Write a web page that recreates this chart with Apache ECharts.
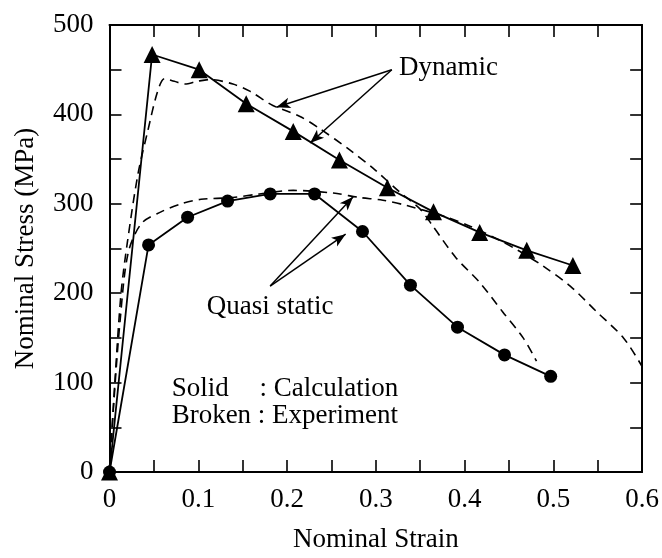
<!DOCTYPE html>
<html>
<head>
<meta charset="utf-8">
<script src="https://cdn.jsdelivr.net/npm/echarts@6/dist/echarts.min.js"></script>
<style>
  html, body { margin: 0; padding: 0; background: #fff; }
  #chart { width: 662px; height: 558px; }
</style>
</head>
<body>
<div id="chart"></div>
<script>
// Nominal stress–strain curves: calculation (solid) vs experiment (broken)

// Dynamic, calculation (triangles)
const dynCalcStrain = [0, 0.048, 0.101, 0.154, 0.207, 0.259, 0.313, 0.365, 0.417, 0.470, 0.522];
const dynCalcStress = [0, 467, 450, 412, 381, 349, 318, 291, 268, 248, 231];

// Quasi static, calculation (circles)
const qsCalcStrain = [0, 0.044, 0.088, 0.133, 0.181, 0.231, 0.285, 0.339, 0.392, 0.445, 0.497];
const qsCalcStress = [0, 254, 285, 303, 311, 311, 269, 209, 162, 131, 107];

// Dynamic, experiment
const dynExpStrain = [0, 0.006, 0.013, 0.020, 0.032, 0.043, 0.054, 0.062, 0.073, 0.085, 0.099, 0.113, 0.139, 0.158, 0.184, 0.214, 0.237, 0.271, 0.299, 0.327, 0.350, 0.365, 0.390, 0.417, 0.443, 0.466, 0.481];
const dynExpStress = [0, 100, 200, 256, 333, 381, 425, 440, 437, 434, 437, 439, 434, 426, 410, 398, 384, 360, 338, 313, 294, 274, 240, 212, 179, 150, 124];

// Quasi static, experiment
const qsExpStrain = [0, 0.005, 0.012, 0.021, 0.036, 0.058, 0.081, 0.103, 0.139, 0.169, 0.207, 0.252, 0.282, 0.308, 0.335, 0.380, 0.406, 0.432, 0.460, 0.489, 0.519, 0.549, 0.579, 0.600];
const qsExpStress = [0, 80, 170, 245, 278, 291, 300, 305, 307, 311, 315, 312, 307, 304, 298, 285, 275, 263, 248, 230, 208, 179, 150, 118];

// Tick labels
const xTickLabels = ['0', '0.1', '0.2', '0.3', '0.4', '0.5', '0.6'];
const yTickLabels = ['0', '100', '200', '300', '400', '500'];

// Annotation arrows: [from, to] in (strain, stress)
const dynArrows = [
  [[0.318, 450], [0.188, 408]],
  [[0.318, 450], [0.226, 368]]
];
const qsArrows = [
  [[0.181, 208], [0.2745, 308]],
  [[0.181, 208], [0.266, 266]]
];

const FONT = '"Liberation Serif", "Times New Roman", Times, serif';
const FS = 27;

const zip = (xs, ys) => xs.map((x, i) => [x, ys[i]]);

const chart = echarts.init(document.getElementById('chart'), null, { renderer: 'canvas' });

const tickCommon = { show: true, inside: true, length: 12, interval: 0, lineStyle: { color: '#000', width: 1.6 } };
const lineCommon = { show: true, onZero: false, lineStyle: { color: '#000', width: 2 } };

const arrowLines = dynArrows.concat(qsArrows).map(a => [{ coord: a[0] }, { coord: a[1] }]);

const option = {
  animation: false,
  backgroundColor: '#fff',
  grid: { left: 109.5, right: 19.5, top: 25, bottom: 79, containLabel: false },
  xAxis: [
    {
      type: 'value', min: 0, max: 0.6, interval: 0.05, position: 'bottom',
      axisLine: lineCommon, axisTick: tickCommon, splitLine: { show: false },
      axisLabel: {
        interval: 0, margin: 14, color: '#000', fontFamily: FONT, fontSize: FS,
        showMinLabel: true, showMaxLabel: true,
        formatter: v => { const k = Math.round(v * 20); return k % 2 === 0 ? xTickLabels[k / 2] : ''; }
      },
      name: 'Nominal Strain', nameLocation: 'middle', nameGap: 54,
      nameTextStyle: { color: '#000', fontFamily: FONT, fontSize: FS }
    },
    {
      type: 'value', min: 0, max: 0.6, interval: 0.05, position: 'top',
      axisLine: lineCommon, axisTick: tickCommon, axisLabel: { show: false }, splitLine: { show: false }
    }
  ],
  yAxis: [
    {
      type: 'value', min: 0, max: 500, interval: 50, position: 'left',
      axisLine: lineCommon, axisTick: tickCommon, splitLine: { show: false },
      axisLabel: {
        interval: 0, margin: 16, color: '#000', fontFamily: FONT, fontSize: FS,
        showMinLabel: true, showMaxLabel: true,
        formatter: v => { const k = Math.round(v / 50); return k % 2 === 0 ? yTickLabels[k / 2] : ''; }
      },
      name: 'Nominal Stress (MPa)', nameLocation: 'middle', nameGap: 70, nameRotate: 90,
      nameTextStyle: { color: '#000', fontFamily: FONT, fontSize: FS }
    },
    {
      type: 'value', min: 0, max: 500, interval: 50, position: 'right',
      axisLine: lineCommon, axisTick: tickCommon, axisLabel: { show: false }, splitLine: { show: false }
    }
  ],
  series: [
    {
      name: 'Dynamic (experiment)', type: 'line', data: zip(dynExpStrain, dynExpStress),
      showSymbol: false, symbol: 'none', smooth: 0.3,
      lineStyle: { color: '#000', width: 1.6, type: [9, 6] }, z: 2
    },
    {
      name: 'Quasi static (experiment)', type: 'line', data: zip(qsExpStrain, qsExpStress),
      showSymbol: false, symbol: 'none', smooth: 0.3,
      lineStyle: { color: '#000', width: 1.6, type: [9, 6] }, z: 2
    },
    {
      name: 'Dynamic (calculation)', type: 'line', data: zip(dynCalcStrain, dynCalcStress),
      symbol: 'triangle', symbolSize: 17, showAllSymbol: true,
      itemStyle: { color: '#000' }, lineStyle: { color: '#000', width: 1.8 }, z: 3
    },
    {
      name: 'Quasi static (calculation)', type: 'line', data: zip(qsCalcStrain, qsCalcStress),
      symbol: 'circle', symbolSize: 13, showAllSymbol: true,
      itemStyle: { color: '#000' }, lineStyle: { color: '#000', width: 1.8 }, z: 3
    },
    {
      name: 'annotations', type: 'line', data: [], silent: true,
      markLine: {
        silent: true, animation: false,
        symbol: ['none', 'arrow'], symbolSize: [8, 14],
        label: { show: false },
        lineStyle: { color: '#000', width: 1.5, type: 'solid' },
        emphasis: { disabled: true },
        data: arrowLines
      }
    }
  ]
};

chart.setOption(option);

// Text annotations, anchored (vertical middle) in data space
const px = p => chart.convertToPixel({ xAxisIndex: 0, yAxisIndex: 0 }, p);
const notes = [
  { text: 'Dynamic', at: [0.326, 452], align: 'left' },
  { text: 'Quasi static', at: [0.181, 184.5], align: 'center' },
  { text: 'Solid', at: [0.070, 93], align: 'left' },
  { text: ': Calculation', at: [0.169, 93], align: 'left' },
  { text: 'Broken : Experiment', at: [0.070, 63], align: 'left' }
];
chart.setOption({
  graphic: notes.map(n => {
    const p = px(n.at);
    return {
      type: 'text', silent: true, x: p[0], y: p[1], z: 10,
      style: {
        text: n.text, fill: '#000', font: FS + 'px ' + FONT,
        align: n.align, verticalAlign: 'middle',
        textAlign: n.align, textVerticalAlign: 'middle'
      }
    };
  })
});
</script>
</body>
</html>
